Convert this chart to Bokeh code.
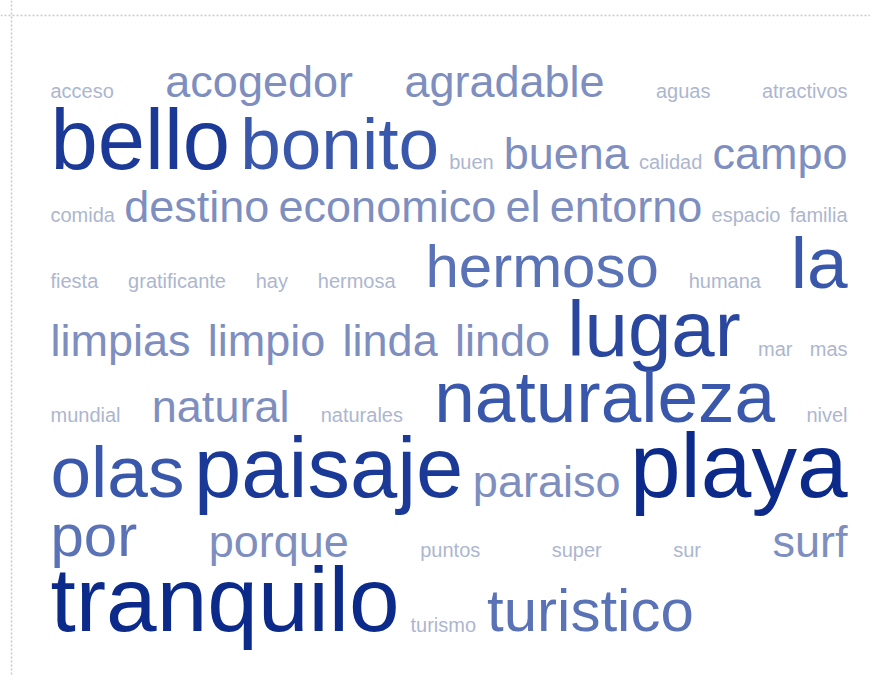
import math
from bokeh.plotting import figure
from bokeh.models import ColumnDataSource, Range1d, Span
from bokeh.core.properties import value, field
from bokeh.embed import file_html
from bokeh.resources import INLINE

# ---- data: words (alphabetical) and their frequencies ----
words = ["acceso", "acogedor", "agradable", "aguas", "atractivos",
         "bello", "bonito", "buen", "buena", "calidad", "campo",
         "comida", "destino", "economico", "el", "entorno", "espacio", "familia",
         "fiesta", "gratificante", "hay", "hermosa", "hermoso", "humana", "la",
         "limpias", "limpio", "linda", "lindo", "lugar", "mar", "mas",
         "mundial", "natural", "naturales", "naturaleza", "nivel",
         "olas", "paisaje", "paraiso", "playa",
         "por", "porque", "puntos", "super", "sur", "surf",
         "tranquilo", "turismo", "turistico"]
freqs = [1, 2, 2, 1, 1,
         6, 4, 1, 2, 1, 2,
         1, 2, 2, 2, 2, 1, 1,
         1, 1, 1, 1, 3, 1, 4,
         2, 2, 2, 2, 5, 1, 1,
         1, 2, 1, 4, 1,
         4, 6, 2, 7,
         3, 2, 1, 1, 1, 2,
         7, 1, 3]

# ---- style scales (by frequency level) ----
SIZE_BY_FREQ = {1: 20, 2: 45, 3: 60, 4: 73, 5: 78, 6: 85, 7: 91}
COLOR_BY_FREQ = {1: "#adb6cf", 2: "#7d8ebf", 3: "#5a72b6", 4: "#3a58ab",
                 5: "#2a47a0", 6: "#1b3996", 7: "#0b2a8a"}

# Arial / Liberation Sans advance widths (1/1000 em)
ADV = dict(a=556, b=556, c=500, d=556, e=556, f=278, g=556, h=556, i=222, j=222,
           k=500, l=222, m=833, n=556, o=556, p=556, q=556, r=333, s=500, t=278,
           u=556, v=500, w=722, x=500, y=500, z=500)


def text_width(word, px):
    return sum(ADV.get(ch, 556) for ch in word) * px / 1000.0


sizes = [SIZE_BY_FREQ[f] for f in freqs]
widths = [text_width(w, s) for w, s in zip(words, sizes)]

# ---- layout: greedy rows, justified ----
X0, X1 = 50.0, 847.0
GAP_MIN = 8.0
rows, cur, curw = [], [], 0.0
for i in range(len(words)):
    need = curw + (GAP_MIN if cur else 0.0) + widths[i]
    if cur and need > X1 - X0:
        rows.append(cur)
        cur, curw = [i], widths[i]
    else:
        cur.append(i)
        curw = need
rows.append(cur)

BASE_SHIFT = 0.35  # renderer places the alphabetic baseline ~0.35em low
xs = [0.0] * len(words)
ys = [0.0] * len(words)
y = 44.4
for r, row in enumerate(rows):
    rmax = max(sizes[i] for i in row)
    y += 31 + 0.48 * rmax
    total = sum(widths[i] for i in row)
    if r < len(rows) - 1 and len(row) > 1:
        gap = (X1 - X0 - total) / (len(row) - 1)
    else:
        gap = 11.0
    x = X0
    for i in row:
        xs[i] = x
        ys[i] = y - BASE_SHIFT * sizes[i]
        x += widths[i] + gap

src = ColumnDataSource(dict(
    x=xs, y=ys, word=words,
    size=["%dpx" % s for s in sizes],
    color=[COLOR_BY_FREQ[f] for f in freqs],
))

W, H = 870, 676
p = figure(width=W, height=H, output_backend="svg", toolbar_location=None,
           x_range=Range1d(0, W), y_range=Range1d(H, 0),
           x_axis_location=None, y_axis_location=None,
           min_border=0, min_border_left=0, min_border_right=0,
           min_border_top=0, min_border_bottom=0)
p.grid.visible = False
p.outline_line_color = None
p.background_fill_color = "white"
p.border_fill_color = "white"

p.add_layout(Span(location=15, dimension="width", line_color="#c9c9c9",
                  line_width=1.5, line_dash="2 2"))
p.add_layout(Span(location=11, dimension="height", line_color="#c9c9c9",
                  line_width=1.5, line_dash="2 2"))

p.text(x="x", y="y", text="word", source=src,
       text_font=value("Liberation Sans"),
       text_font_size=field("size"),
       text_color=field("color"),
       text_align="left", text_baseline="alphabetic")

open("out.html", "w").write(file_html(p, INLINE))
